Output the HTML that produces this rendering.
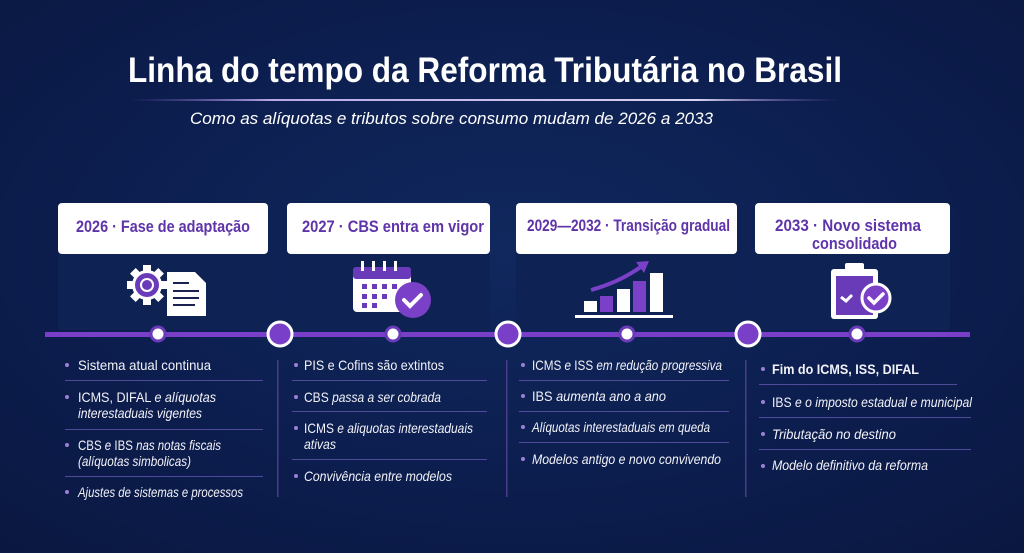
<!DOCTYPE html>
<html><head><meta charset="utf-8"><style>
html,body{margin:0;padding:0;width:1024px;height:553px;overflow:hidden;background:#0c1b4a}
svg{display:block}
.t{font-family:"Liberation Sans",sans-serif;fill:#fff}
.h{font-family:"Liberation Sans",sans-serif;font-weight:bold;fill:#5e34a8;font-size:17px}
.li{font-family:"Liberation Sans",sans-serif;fill:#f2f2f8;font-size:14px}
.it{font-style:italic}
</style></head><body>
<svg width="1024" height="553" viewBox="0 0 1024 553">
<defs>
<radialGradient id="bg" cx="0.5" cy="0.45" r="0.75">
<stop offset="0" stop-color="#10285e"/><stop offset="0.6" stop-color="#0c1d4d"/><stop offset="1" stop-color="#0a1740"/>
</radialGradient>
<linearGradient id="ul" x1="0" x2="1"><stop offset="0" stop-color="#7a5cc0" stop-opacity="0"/><stop offset="0.2" stop-color="#b9a8e8"/><stop offset="0.8" stop-color="#d8d3f0"/><stop offset="1" stop-color="#7a5cc0" stop-opacity="0"/></linearGradient>
</defs>
<rect width="1024" height="553" fill="url(#bg)"/>
<text class="t" x="128" y="82" font-size="35" font-weight="bold" textLength="714" lengthAdjust="spacingAndGlyphs">Linha do tempo da Reforma Tributária no Brasil</text>
<rect x="130" y="99" width="710" height="2" fill="url(#ul)"/>
<text class="t it" x="190" y="124" font-size="17" textLength="523" lengthAdjust="spacingAndGlyphs">Como as alíquotas e tributos sobre consumo mudam de 2026 a 2033</text>

<!-- panels -->
<g fill="#0e2253">
<rect x="58" y="254" width="210" height="76"/><rect x="287" y="254" width="203" height="76"/>
<rect x="516" y="254" width="221" height="76"/><rect x="755" y="254" width="195" height="76"/>
</g>
<g fill="#fff">
<rect x="58" y="203" width="210" height="51" rx="4"/><rect x="287" y="203" width="203" height="51" rx="4"/>
<rect x="516" y="203" width="221" height="51" rx="4"/><rect x="755" y="203" width="195" height="51" rx="4"/>
</g>
<text class="h" x="76" y="232" textLength="174" lengthAdjust="spacingAndGlyphs">2026 · Fase de adaptação</text>
<text class="h" x="302" y="232" textLength="182" lengthAdjust="spacingAndGlyphs">2027 · CBS entra em vigor</text>
<text class="h" x="527" y="231" textLength="203" lengthAdjust="spacingAndGlyphs">2029—2032 · Transição gradual</text>
<text class="h" x="775" y="231" textLength="146" lengthAdjust="spacingAndGlyphs">2033 · Novo sistema</text>
<text class="h" x="812" y="249" textLength="85" lengthAdjust="spacingAndGlyphs">consolidado</text>

<!-- icon 1: gear + doc -->
<g transform="translate(147,285)">
<g fill="#fff"><rect x="-4" y="-20" width="8" height="40"/><rect x="-20" y="-4" width="40" height="8"/>
<rect x="-4" y="-20" width="8" height="40" transform="rotate(45)"/><rect x="-4" y="-20" width="8" height="40" transform="rotate(-45)"/></g>
<circle r="15" fill="#fff"/>
<circle r="12" fill="#6a3bb8"/><circle r="7" fill="#fff"/><circle r="5" fill="#6a3bb8"/>
</g>
<path d="M167 272 H195 L206 283 V316 H167 Z" fill="#fff"/>
<g fill="#1a2150"><rect x="173" y="282" width="16" height="2"/><rect x="173" y="290" width="26" height="2"/><rect x="173" y="297" width="26" height="2"/><rect x="173" y="304" width="22" height="2"/></g>

<!-- icon 2: calendar -->
<rect x="353" y="267" width="58" height="45" rx="4" fill="#fff"/>
<rect x="353" y="267" width="58" height="12" rx="3" fill="#6a3bb8"/>
<g fill="#fff"><rect x="361" y="261" width="3" height="10"/><rect x="372" y="261" width="3" height="10"/><rect x="383" y="261" width="3" height="10"/><rect x="394" y="261" width="3" height="10"/></g>
<g fill="#6a3bb8"><rect x="362" y="284" width="5" height="5"/><rect x="372" y="284" width="5" height="5"/><rect x="382" y="284" width="5" height="5"/><rect x="392" y="284" width="5" height="5"/>
<rect x="362" y="294" width="5" height="5"/><rect x="372" y="294" width="5" height="5"/><rect x="382" y="294" width="5" height="5"/>
<rect x="362" y="303" width="5" height="5"/><rect x="372" y="303" width="5" height="5"/></g>
<circle cx="413" cy="300" r="18" fill="#7a40c8"/>
<path d="M404 300 l6 6 l11 -11" stroke="#fff" stroke-width="4" fill="none" stroke-linecap="round"/>

<!-- icon 3: chart -->
<g><rect x="584" y="301" width="13" height="11" fill="#fff"/><rect x="600" y="296" width="13" height="16" fill="#7a40c8"/>
<rect x="617" y="289" width="13" height="23" fill="#fff"/><rect x="633" y="281" width="13" height="31" fill="#7a40c8"/>
<rect x="650" y="273" width="13" height="39" fill="#fff"/>
<rect x="575" y="315" width="98" height="3" fill="#fff"/>
<path d="M591 290 Q620 282 642 266" stroke="#7a40c8" stroke-width="4" fill="none"/>
<path d="M636 262 L649 261 L644 273 Z" fill="#7a40c8"/></g>

<!-- icon 4: clipboard -->
<rect x="831" y="269" width="47" height="50" rx="3" fill="#fff"/>
<rect x="836" y="276" width="37" height="39" fill="#6a3bb8"/>
<rect x="845" y="263" width="19" height="9" rx="2" fill="#fff"/>
<path d="M841 297 l5 4 l6 -6" stroke="#fff" stroke-width="3" fill="none"/>
<circle cx="876" cy="298" r="14" fill="#7a40c8" stroke="#fff" stroke-width="3"/>
<path d="M869 298 l5 5 l9 -9" stroke="#fff" stroke-width="3.5" fill="none" stroke-linecap="round"/>

<!-- timeline -->
<rect x="45" y="332" width="925" height="5" fill="#7a3fc8"/>
<g fill="#7a3fc8" stroke="#fff" stroke-width="3">
<circle cx="280" cy="334" r="12"/><circle cx="508" cy="334" r="12"/><circle cx="748" cy="334" r="12"/></g>
<g fill="#fff" stroke="#6a3bb8" stroke-width="3">
<circle cx="158" cy="334" r="7"/><circle cx="393" cy="334" r="7"/><circle cx="627" cy="334" r="7"/><circle cx="857" cy="334" r="7"/></g>

<!-- dividers -->
<g fill="#4a3c8a"><rect x="277" y="360" width="1.5" height="137"/><rect x="506" y="360" width="1.5" height="137"/><rect x="745" y="360" width="1.5" height="137"/></g>
<g fill="#4f4a9a">
<rect x="65" y="380" width="198" height="1"/><rect x="65" y="429" width="198" height="1"/><rect x="65" y="476" width="198" height="1"/>
<rect x="292" y="380" width="195" height="1"/><rect x="292" y="411" width="195" height="1"/><rect x="292" y="459" width="195" height="1"/>
<rect x="519" y="380" width="210" height="1"/><rect x="519" y="411" width="210" height="1"/><rect x="519" y="442" width="210" height="1"/>
<rect x="759" y="384" width="198" height="1"/><rect x="759" y="417" width="212" height="1"/><rect x="759" y="449" width="212" height="1"/>
</g>
<g fill="#9b80d8">
<circle cx="67" cy="365" r="2"/><circle cx="67" cy="397" r="2"/><circle cx="67" cy="445" r="2"/><circle cx="67" cy="492" r="2"/>
<circle cx="296" cy="365" r="2"/><circle cx="296" cy="397" r="2"/><circle cx="296" cy="428" r="2"/><circle cx="296" cy="476" r="2"/>
<circle cx="523" cy="365" r="2"/><circle cx="523" cy="396" r="2"/><circle cx="523" cy="427" r="2"/><circle cx="523" cy="459" r="2"/>
<circle cx="763" cy="369" r="2"/><circle cx="763" cy="402" r="2"/><circle cx="763" cy="434" r="2"/><circle cx="763" cy="466" r="2"/>
</g>
<g class="li">
<text x="78" y="370" textLength="133" lengthAdjust="spacingAndGlyphs">Sistema atual continua</text>
<text x="78" y="402" textLength="138" lengthAdjust="spacingAndGlyphs">ICMS, DIFAL <tspan class="it">e alíquotas</tspan></text>
<text x="78" y="418" class="it" textLength="124" lengthAdjust="spacingAndGlyphs">interestaduais vigentes</text>
<text x="78" y="450" textLength="143" lengthAdjust="spacingAndGlyphs">CBS <tspan class="it">e</tspan> IBS <tspan class="it">nas notas fiscais</tspan></text>
<text x="78" y="466" class="it" textLength="113" lengthAdjust="spacingAndGlyphs">(alíquotas simbolicas)</text>
<text x="78" y="497" class="it" textLength="165" lengthAdjust="spacingAndGlyphs">Ajustes de sistemas e processos</text>

<text x="304" y="370" textLength="140" lengthAdjust="spacingAndGlyphs">PIS e Cofins são extintos</text>
<text x="304" y="402" textLength="137" lengthAdjust="spacingAndGlyphs">CBS <tspan class="it">passa a ser cobrada</tspan></text>
<text x="304" y="433" textLength="169" lengthAdjust="spacingAndGlyphs">ICMS <tspan class="it">e aliquotas interestaduais</tspan></text>
<text x="304" y="449" class="it" textLength="32" lengthAdjust="spacingAndGlyphs">ativas</text>
<text x="304" y="481" class="it" textLength="148" lengthAdjust="spacingAndGlyphs">Convivência entre modelos</text>

<text x="532" y="370" textLength="190" lengthAdjust="spacingAndGlyphs">ICMS <tspan class="it">e</tspan> ISS <tspan class="it">em redução progressiva</tspan></text>
<text x="532" y="401" textLength="134" lengthAdjust="spacingAndGlyphs">IBS <tspan class="it">aumenta ano a ano</tspan></text>
<text x="532" y="432" class="it" textLength="178" lengthAdjust="spacingAndGlyphs">Alíquotas interestaduais em queda</text>
<text x="532" y="464" class="it" textLength="189" lengthAdjust="spacingAndGlyphs">Modelos antigo e novo convivendo</text>

<text x="772" y="374" font-weight="bold" textLength="147" lengthAdjust="spacingAndGlyphs">Fim do ICMS, ISS, DIFAL</text>
<text x="772" y="407" textLength="200" lengthAdjust="spacingAndGlyphs">IBS <tspan class="it">e o imposto estadual e municipal</tspan></text>
<text x="772" y="439" class="it" textLength="124" lengthAdjust="spacingAndGlyphs">Tributação no destino</text>
<text x="772" y="470" class="it" textLength="156" lengthAdjust="spacingAndGlyphs">Modelo definitivo da reforma</text>
</g>
</svg>
</body></html>
